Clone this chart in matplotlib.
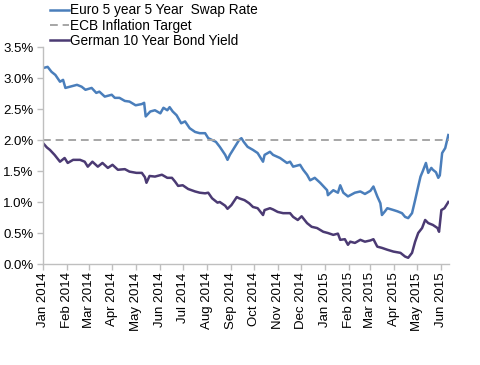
import matplotlib
matplotlib.use("Agg")
import matplotlib.pyplot as plt
import matplotlib.dates as mdates
import pandas as pd
from matplotlib.ticker import FuncFormatter

plt.rcParams['font.family'] = ['Liberation Sans', 'DejaVu Sans']

swap_dates = ["2014-01-01","2014-01-07","2014-01-12","2014-01-17","2014-01-23","2014-01-27","2014-01-30",
              "2014-02-05","2014-02-14","2014-02-20","2014-02-25","2014-03-05","2014-03-11","2014-03-15",
              "2014-03-22","2014-03-31","2014-04-04","2014-04-10","2014-04-17","2014-04-23","2014-05-01",
              "2014-05-09","2014-05-12","2014-05-14","2014-05-17","2014-05-20","2014-05-26","2014-06-02",
              "2014-06-06","2014-06-11","2014-06-14","2014-06-18","2014-06-23","2014-06-29","2014-07-04",
              "2014-07-10","2014-07-17","2014-07-23","2014-07-30","2014-08-03","2014-08-08","2014-08-13",
              "2014-08-18","2014-08-25","2014-08-28","2014-08-31","2014-09-04","2014-09-08","2014-09-12",
              "2014-09-15","2014-09-18","2014-09-23","2014-09-30","2014-10-06","2014-10-13","2014-10-15",
              "2014-10-22","2014-10-26","2014-11-04","2014-11-13","2014-11-17","2014-11-21","2014-11-30",
              "2014-12-04","2014-12-09","2014-12-13","2014-12-19","2014-12-26","2015-01-04","2015-01-05",
              "2015-01-12","2015-01-18","2015-01-21","2015-01-25","2015-01-31","2015-02-03","2015-02-09",
              "2015-02-16","2015-02-22","2015-03-01","2015-03-05","2015-03-10","2015-03-14","2015-03-16",
              "2015-03-20","2015-03-23","2015-03-31","2015-04-05","2015-04-11","2015-04-15","2015-04-19",
              "2015-04-24","2015-04-28","2015-05-02","2015-05-05","2015-05-08","2015-05-12","2015-05-15",
              "2015-05-19","2015-05-21","2015-05-25","2015-05-28","2015-05-30","2015-06-02","2015-06-06",
              "2015-06-10"]
swap_values = [3.16,3.18,3.10,3.05,2.94,2.97,2.84,
               2.86,2.89,2.86,2.81,2.84,2.76,2.78,
               2.70,2.73,2.68,2.68,2.63,2.62,2.56,
               2.58,2.60,2.38,2.42,2.46,2.48,2.43,
               2.52,2.48,2.53,2.46,2.40,2.27,2.30,
               2.19,2.13,2.11,2.11,2.03,2.00,1.97,
               1.89,1.76,1.68,1.76,1.84,1.92,2.00,
               2.03,1.97,1.89,1.84,1.79,1.65,1.76,
               1.81,1.76,1.71,1.63,1.65,1.57,1.60,
               1.52,1.44,1.35,1.39,1.31,1.19,1.11,
               1.19,1.15,1.27,1.15,1.09,1.11,1.15,
               1.17,1.13,1.18,1.25,1.09,0.98,0.79,
               0.85,0.90,0.87,0.85,0.82,0.76,0.74,
               0.82,1.03,1.25,1.41,1.50,1.63,1.47,
               1.55,1.52,1.48,1.39,1.43,1.79,1.87,
               2.08]

bund_dates = ["2014-01-01","2014-01-06","2014-01-10","2014-01-16","2014-01-23","2014-01-29","2014-02-02",
              "2014-02-09","2014-02-18","2014-02-24","2014-02-28","2014-03-06","2014-03-13","2014-03-19",
              "2014-03-26","2014-04-01","2014-04-08","2014-04-17","2014-04-23","2014-05-02","2014-05-09",
              "2014-05-13","2014-05-15","2014-05-19","2014-05-26","2014-06-04","2014-06-11","2014-06-17",
              "2014-06-21","2014-06-25","2014-07-01","2014-07-08","2014-07-17","2014-07-23","2014-07-30",
              "2014-08-03","2014-08-08","2014-08-15","2014-08-18","2014-08-25","2014-08-28","2014-09-02",
              "2014-09-09","2014-09-12","2014-09-19","2014-09-25","2014-09-30","2014-10-06","2014-10-13",
              "2014-10-15","2014-10-22","2014-10-26","2014-11-01","2014-11-08","2014-11-17","2014-11-21",
              "2014-11-27","2014-12-02","2014-12-09","2014-12-15","2014-12-22","2014-12-30","2015-01-05",
              "2015-01-12","2015-01-18","2015-01-21","2015-01-27","2015-01-31","2015-02-03","2015-02-09",
              "2015-02-16","2015-02-22","2015-03-01","2015-03-05","2015-03-10","2015-03-16","2015-03-23",
              "2015-03-31","2015-04-09","2015-04-15","2015-04-19","2015-04-24","2015-04-28","2015-05-02",
              "2015-05-07","2015-05-11","2015-05-15","2015-05-21","2015-05-27","2015-05-29","2015-06-01",
              "2015-06-05","2015-06-10"]
bund_values = [1.95,1.88,1.84,1.76,1.65,1.71,1.63,
               1.68,1.68,1.65,1.57,1.65,1.57,1.63,
               1.55,1.60,1.52,1.53,1.49,1.47,1.47,
               1.40,1.31,1.42,1.41,1.44,1.39,1.39,
               1.33,1.26,1.27,1.21,1.17,1.15,1.14,
               1.15,1.06,0.99,1.00,0.94,0.89,0.95,
               1.08,1.06,1.03,0.98,0.92,0.90,0.79,
               0.87,0.90,0.88,0.84,0.82,0.82,0.76,
               0.71,0.77,0.66,0.60,0.58,0.52,0.50,
               0.47,0.49,0.39,0.40,0.31,0.36,0.34,
               0.39,0.36,0.38,0.40,0.28,0.26,0.23,
               0.20,0.18,0.12,0.10,0.18,0.36,0.50,
               0.58,0.71,0.66,0.63,0.58,0.52,0.87,
               0.90,1.00]

ecb_target = 2.0
labels = ["Euro 5 year 5 Year  Swap Rate", "ECB Inflation Target", "German 10 Year Bond Yield"]
yticks = [0.0, 0.5, 1.0, 1.5, 2.0, 2.5, 3.0, 3.5]

fig = plt.figure(figsize=(4.8, 3.65), dpi=100)
ax = fig.add_axes([0.0896, 0.2767, 0.846, 0.5945])

sd = pd.to_datetime(swap_dates)
bd = pd.to_datetime(bund_dates)
l1, = ax.plot(sd, swap_values, color="#4A7EBB", lw=1.8, solid_joinstyle="round")
l2 = ax.axhline(ecb_target, color="#A6A6A6", lw=1.4, ls=(0, (4, 2.5)))
l3, = ax.plot(bd, bund_values, color="#4B3A73", lw=1.8, solid_joinstyle="round")

ax.set_ylim(0, 3.5)
ax.set_yticks(yticks)
ax.yaxis.set_major_formatter(FuncFormatter(lambda v, p: f"{v:.1f}%"))
ax.set_xlim(pd.Timestamp("2014-01-01"), pd.Timestamp("2015-06-11"))
ax.xaxis.set_major_locator(mdates.MonthLocator())
ax.xaxis.set_major_formatter(mdates.DateFormatter("%b %Y"))
for lab in ax.get_xticklabels():
    lab.set_rotation(90)

for s in ["top", "right"]:
    ax.spines[s].set_visible(False)
for s in ["left", "bottom"]:
    ax.spines[s].set_color("#BFBFBF")
    ax.spines[s].set_linewidth(1.0)
ax.tick_params(axis="both", colors="#BFBFBF", labelcolor="black", labelsize=9.5, length=4, width=1.0)
ax.tick_params(axis="x", pad=2)
ax.tick_params(axis="y", pad=3)

fig.legend([l1, l2, l3], labels, loc="upper left", bbox_to_anchor=(0.104, 0.991),
           frameon=False, fontsize=9.8, handlelength=1.4, handletextpad=0.1,
           labelspacing=0.1, borderaxespad=0.0, borderpad=0.0)

fig.savefig("out.png", dpi=100)
